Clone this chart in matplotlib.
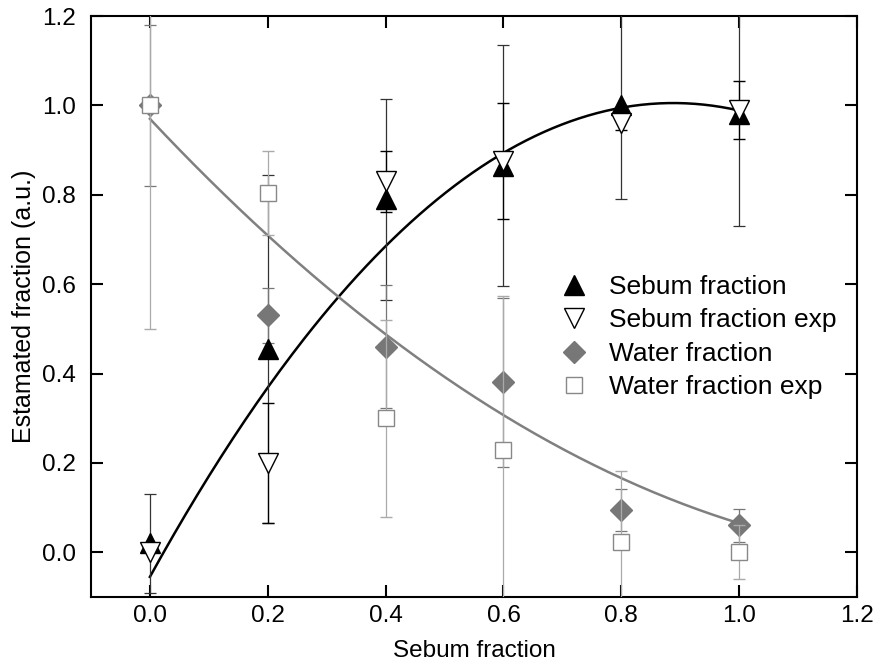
import numpy as np
import matplotlib.pyplot as plt
import matplotlib
from matplotlib.lines import Line2D

matplotlib.rcParams["font.family"] = ["Liberation Sans", "DejaVu Sans"]

# data
x = [0.0, 0.2, 0.4, 0.6, 0.8, 1.0]

sebum = [0.02, 0.455, 0.79, 0.865, 1.0, 0.98]
sebum_err = [0.11, 0.39, 0.225, 0.27, 0.21, 0.25]

sebum_exp = [0.0, 0.2, 0.83, 0.875, 0.96, 0.99]
sebum_exp_err = [0.0, 0.135, 0.068, 0.13, 0.015, 0.065]

water = [1.0, 0.53, 0.46, 0.38, 0.094, 0.06]
water_err = [0.18, 0.062, 0.138, 0.19, 0.047, 0.038]

water_exp = [1.0, 0.804, 0.30, 0.229, 0.023, 0.0]
water_exp_err = [0.5, 0.094, 0.22, 0.345, 0.16, 0.06]

# quadratic fit coefficients (highest power first)
fit_sebum = [-1.344, 2.3875, -0.055]
fit_water = [0.5, -1.405, 0.97]

labels = ['Sebum fraction', 'Sebum fraction exp', 'Water fraction', 'Water fraction exp']

fig = plt.figure(figsize=(8.78, 6.68), dpi=100)
ax = fig.add_axes([0.1036, 0.1063, 0.8725, 0.8697])

xf = np.linspace(0, 1, 200)
ax.plot(xf, np.polyval(fit_sebum, xf), color='black', lw=1.8, zorder=2)
ax.plot(xf, np.polyval(fit_water, xf), color='#808080', lw=1.8, zorder=2)

ekw = dict(capsize=4, elinewidth=0.9, capthick=0.9, linestyle='none')
ax.errorbar(x, sebum, yerr=sebum_err, ecolor='#333333', marker='^', ms=14,
            mfc='black', mec='black', zorder=3, **ekw)
ax.errorbar(x, sebum_exp, yerr=sebum_exp_err, ecolor='black', marker='v', ms=14,
            mfc='white', mec='black', mew=1.0, zorder=4, **ekw)
ax.errorbar(x, water, yerr=water_err, ecolor='#777777', marker='D', ms=11,
            mfc='#777777', mec='#777777', zorder=3, **ekw)
ax.errorbar(x, water_exp, yerr=water_exp_err, ecolor='#aaaaaa', marker='s', ms=12,
            mfc='white', mec='#888888', mew=1.0, zorder=4, **ekw)

handles = [
    Line2D([], [], ls='none', marker='^', ms=14, mfc='black', mec='black'),
    Line2D([], [], ls='none', marker='v', ms=14, mfc='white', mec='black'),
    Line2D([], [], ls='none', marker='D', ms=11, mfc='#777777', mec='#777777'),
    Line2D([], [], ls='none', marker='s', ms=12, mfc='white', mec='#888888'),
]
ax.legend(handles, labels, loc='upper left', bbox_to_anchor=(0.6, 0.5725),
          frameon=False, fontsize=19, handletextpad=0.8, labelspacing=0.36,
          handlelength=1.0, borderaxespad=0)

ax.set_xlim(-0.1, 1.2)
ax.set_ylim(-0.1, 1.2)
ax.set_xticks([0.0, 0.2, 0.4, 0.6, 0.8, 1.0, 1.2])
ax.set_yticks([0.0, 0.2, 0.4, 0.6, 0.8, 1.0, 1.2])
ax.xaxis.set_major_formatter(matplotlib.ticker.FormatStrFormatter('%.1f'))
ax.yaxis.set_major_formatter(matplotlib.ticker.FormatStrFormatter('%.1f'))
ax.tick_params(direction='in', length=8.5, width=1.5, labelsize=17.5,
               top=True, right=True)
ax.tick_params(axis='y', pad=11)
ax.tick_params(axis='x', pad=6)
for s in ax.spines.values():
    s.set_linewidth(1.5)

ax.set_xlabel('Sebum fraction', fontsize=17.5, labelpad=9)
ax.set_ylabel('Estamated fraction (a.u.)', fontsize=18, labelpad=4)

fig.savefig('out.png', dpi=100)
